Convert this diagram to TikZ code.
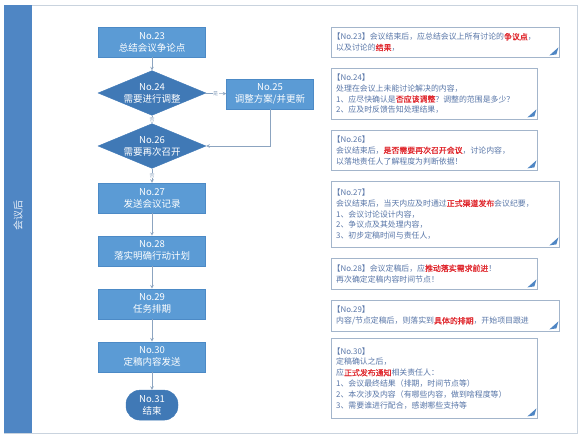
\documentclass[tikz,border=0pt]{standalone}
\usepackage{fontspec}
\setmainfont{Noto Sans CJK SC}[AutoFakeBold=1.2]
\usetikzlibrary{shapes,arrows,positioning,calc}

\definecolor{boxblue}{HTML}{5B9BD5}
\definecolor{boxedge}{HTML}{4C8AC6}
\definecolor{darkblue}{HTML}{4079B6}
\definecolor{barblue}{HTML}{4F86C4}
\definecolor{notetext}{HTML}{5876A8}
\definecolor{noteedge}{HTML}{A3B5CB}
\definecolor{hired}{HTML}{E0282E}
\definecolor{linegray}{HTML}{8CA4C0}
\definecolor{framegray}{HTML}{C9D3DE}

\newcommand{\keyword}[1]{\textcolor{hired}{\textbf{#1}}}
\newcommand{\noteno}[1]{\kern-0.45em【#1】}

\begin{document}
\begin{tikzpicture}[
    x=1pt, y=1pt,
    node distance=22.5pt,
    stepbox/.style={rectangle, draw=boxedge, fill=boxblue, text=white, minimum width=107pt, minimum height=30pt, inner sep=1pt, align=center, font=\fontsize{9.5}{12}\selectfont},
    decision/.style={diamond, draw=darkblue, fill=darkblue, text=white, minimum width=108pt, minimum height=37pt, inner xsep=-12pt, inner ysep=-4pt, align=center, font=\fontsize{9.5}{12}\selectfont},
    endbox/.style={rectangle, rounded corners=14pt, draw=darkblue, fill=darkblue, text=white, minimum width=52pt, minimum height=30pt, inner sep=1pt, align=center, font=\fontsize{9.5}{12}\selectfont},
    note/.style={rectangle, draw=noteedge, fill=white, text=notetext, anchor=north west, inner xsep=5pt, inner ysep=3pt, align=left, font=\fontsize{7.9}{10.8}\selectfont},
    wide/.style={text width=218pt},
    narrow/.style={text width=196pt},
    arrow/.style={->, >=stealth, draw=linegray, line width=0.6pt},
    tag/.style={fill=white, text=linegray, inner sep=0.5pt, font=\fontsize{5}{5}\selectfont}
]
\useasboundingbox (0,0) rectangle (581,-439);

% Frame and side bar
\node[draw=framegray, line width=0.8pt, minimum width=573pt, minimum height=428pt, inner sep=0pt, anchor=north west] (frame) at (4,-5) {};
\node[fill=barblue, minimum width=28pt, minimum height=428pt, inner sep=0pt, anchor=north west] (sidebar) at (4,-5) {};
\node[rotate=90, text=white!88!barblue, font=\fontsize{10}{12}\selectfont] (phase) at ($(sidebar.center)+(0,4)$) {会议后};

% Flow
\node[stepbox] (n23) at (152,-42) {No.23\\总结会议争论点};
\node[decision] (n24) at (152,-93) {No.24\\需要进行调整};
\node[stepbox, minimum width=87pt] (n25) at (270,-94) {No.25\\调整方案/并更新};
\node[decision] (n26) at (152,-146) {No.26\\需要再次召开};
\node[stepbox] (n27) at (152,-198) {No.27\\发送会议记录};
\node[stepbox] (n28) [below=of n27] {No.28\\落实明确行动计划};
\node[stepbox] (n29) [below=of n28] {No.29\\任务排期};
\node[stepbox] (n30) [below=of n29] {No.30\\定稿内容发送};
\node[endbox] (n31) [below=18pt of n30] {No.31\\结束};

% Arrows
\draw[arrow] (n23) -- (n24);
\draw[arrow] (n24) -- node[tag] {是} (n25);
\draw[arrow] (n24) -- node[tag] {否} (n26);
\draw[arrow] (n25) |- (n26);
\draw[arrow] (n26) -- node[tag] {否} (n27);
\draw[arrow] (n27) -- (n28);
\draw[arrow] (n28) -- (n29);
\draw[arrow] (n29) -- (n30);
\draw[arrow] (n30) -- (n31);

% Notes
\node[note, wide, minimum height=30pt] (c23) at (331,-27)
  {\noteno{No.23}会议结束后，应总结会议上所有讨论的\keyword{争议点}，\\以及讨论的\keyword{结果}，};
\node[note, narrow, minimum height=51pt] (c24) at (331,-68)
  {\noteno{No.24}\\处理在会议上未能讨论解决的内容，\\1、应尽快确认是\keyword{否应该调整}？调整的范围是多少？\\2、应及时反馈告知处理结果，};
\node[note, narrow, minimum height=40pt] (c26) at (331,-130)
  {\noteno{No.26}\\会议结束后，\keyword{是否需要再次召开会议}，讨论内容，\\以落地责任人了解程度为判断依据！};
\node[note, wide, minimum height=66pt] (c27) at (331,-181)
  {\noteno{No.27}\\会议结束后，当天内应及时通过\keyword{正式渠道发布}会议纪要，\\1、会议讨论设计内容，\\2、争议点及其处理内容，\\3、初步定稿时间与责任人，};
\node[note, narrow, minimum height=31pt] (c28) at (331,-258)
  {\noteno{No.28}会议定稿后，应\keyword{推动落实需求前进}！\\再次确定定稿内容时间节点！};
\node[note, wide, minimum height=31pt] (c29) at (331,-300)
  {\noteno{No.29}\\内容/节点定稿后，则落实到\keyword{具体的排期}，开始项目跟进};
\node[note, narrow, minimum height=80pt] (c30) at (331,-338)
  {\noteno{No.30}\\定稿确认之后，\\应\keyword{正式发布通知}相关责任人：\\1、会议最终结果（排期，时间节点等）\\2、本次涉及内容（有哪些内容，做到啥程度等）\\3、需要谁进行配合，感谢哪些支持等};

% Folded corners
\foreach \c in {c23,c24,c26,c27,c28,c29,c30}
  \fill[barblue] ($(\c.south east)+(-10,2)$) -- ($(\c.south east)+(-1,10)$) -- ($(\c.south east)+(-3,3)$) -- cycle;

\end{tikzpicture}
\end{document}
